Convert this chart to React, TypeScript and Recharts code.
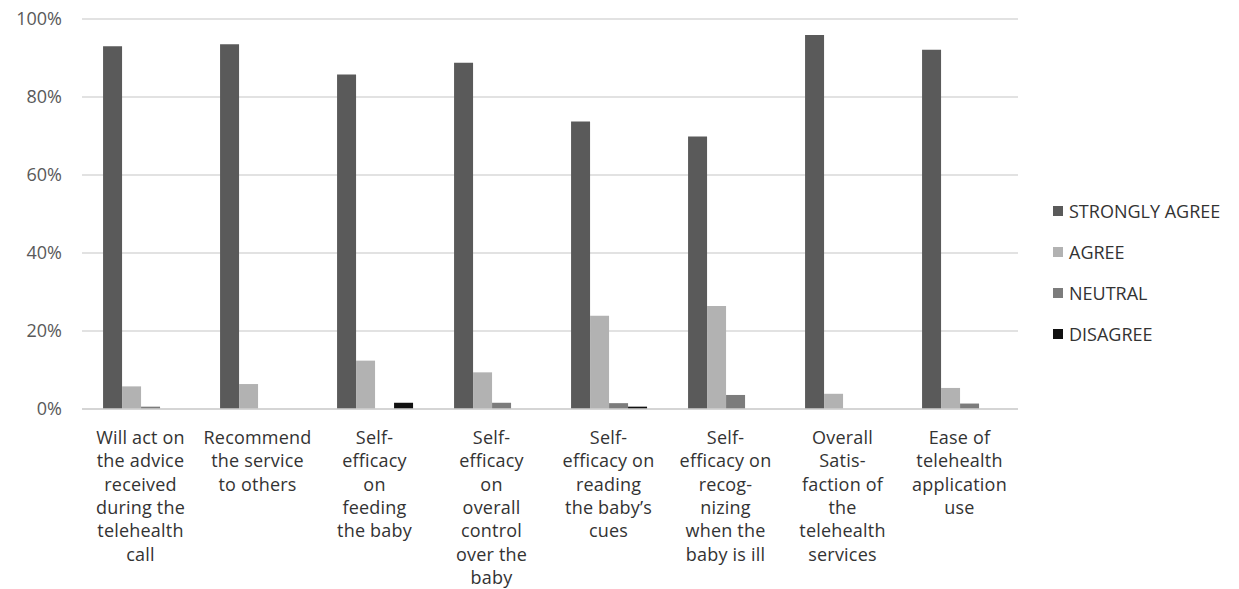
import React from 'react';
import { BarChart, Bar, XAxis, YAxis, CartesianGrid, Legend } from 'recharts';

const categories = [
  'Will act on\nthe advice\nreceived\nduring the\ntelehealth\ncall',
  'Recommend\nthe service\nto others',
  'Self-\nefficacy\non\nfeeding\nthe baby',
  'Self-\nefficacy\non\noverall\ncontrol\nover the\nbaby',
  'Self-\nefficacy on\nreading\nthe baby\u2019s\ncues',
  'Self-\nefficacy on\nrecog-\nnizing\nwhen the\nbaby is ill',
  'Overall\nSatis-\nfaction of\nthe\ntelehealth\nservices',
  'Ease of\ntelehealth\napplication\nuse',
];

const stronglyAgree = [93.0, 93.5, 85.8, 88.8, 73.7, 69.9, 95.9, 92.1];
const agree = [5.8, 6.4, 12.4, 9.4, 23.9, 26.4, 3.9, 5.4];
const neutral = [0.6, 0, 0, 1.6, 1.5, 3.6, 0, 1.4];
const disagree = [0, 0, 1.6, 0, 0.6, 0, 0, 0];

const yTicks = [0, 20, 40, 60, 80, 100];

const seriesNames = ['STRONGLY AGREE', 'AGREE', 'NEUTRAL', 'DISAGREE'];
const seriesKeys = ['sa', 'a', 'n', 'd'];
const seriesColors = ['#5a5a5a', '#b2b2b2', '#7c7c7c', '#111111'];

const data = categories.map((c, i) => ({
  name: c,
  sa: stronglyAgree[i],
  a: agree[i],
  n: neutral[i],
  d: disagree[i],
}));

const FONT = '"Open Sans", sans-serif';

const XTick = (props: any) => {
  const { x, y, payload } = props;
  const lines = String(payload.value).split('\n');
  return (
    <g transform={`translate(${x},${y})`}>
      <text textAnchor="middle" fontFamily={FONT} fontSize={18} fill="#333" letterSpacing={0.2}>
        {lines.map((l, i) => (
          <tspan key={i} x={0} y={27 + i * 23.3}>
            {l}
          </tspan>
        ))}
      </text>
    </g>
  );
};

const LegendContent = () => (
  <div style={{ fontFamily: FONT, fontSize: 18, color: '#333' }}>
    {seriesNames.map((n, i) => (
      <div key={n} style={{ display: 'flex', alignItems: 'center', height: 41 }}>
        <span
          style={{
            display: 'inline-block',
            width: 10,
            height: 10,
            background: seriesColors[i],
            marginRight: 6,
          }}
        />
        <span>{n}</span>
      </div>
    ))}
  </div>
);

export default function App() {
  return (
    <div style={{ position: 'absolute', left: 0, top: 0, background: '#fff' }}>
      <BarChart
        width={1239}
        height={589}
        data={data}
        margin={{ top: 19, right: 35, bottom: 10, left: 0 }}
        barCategoryGap="18%"
        barGap={0}
      >
        <CartesianGrid vertical={false} stroke="#d9d9d9" strokeWidth={1.5} />
        <XAxis
          dataKey="name"
          tick={<XTick />}
          tickLine={false}
          axisLine={{ stroke: '#d0d0d0', strokeWidth: 1.5 }}
          height={170}
          interval={0}
        />
        <YAxis
          domain={[0, 100]}
          ticks={yTicks}
          tickFormatter={(v: number) => `${v}%`}
          tickLine={false}
          axisLine={false}
          width={82}
          tickMargin={14}
          tick={{ fontFamily: FONT, fontSize: 18, fill: '#595959' }}
        />
        <Legend
          layout="vertical"
          align="right"
          verticalAlign="top"
          content={<LegendContent />}
          wrapperStyle={{ left: 1053, top: 190, width: 186 }}
        />
        {seriesKeys.map((k, i) => (
          <Bar key={k} dataKey={k} name={seriesNames[i]} fill={seriesColors[i]} isAnimationActive={false} />
        ))}
      </BarChart>
    </div>
  );
}
